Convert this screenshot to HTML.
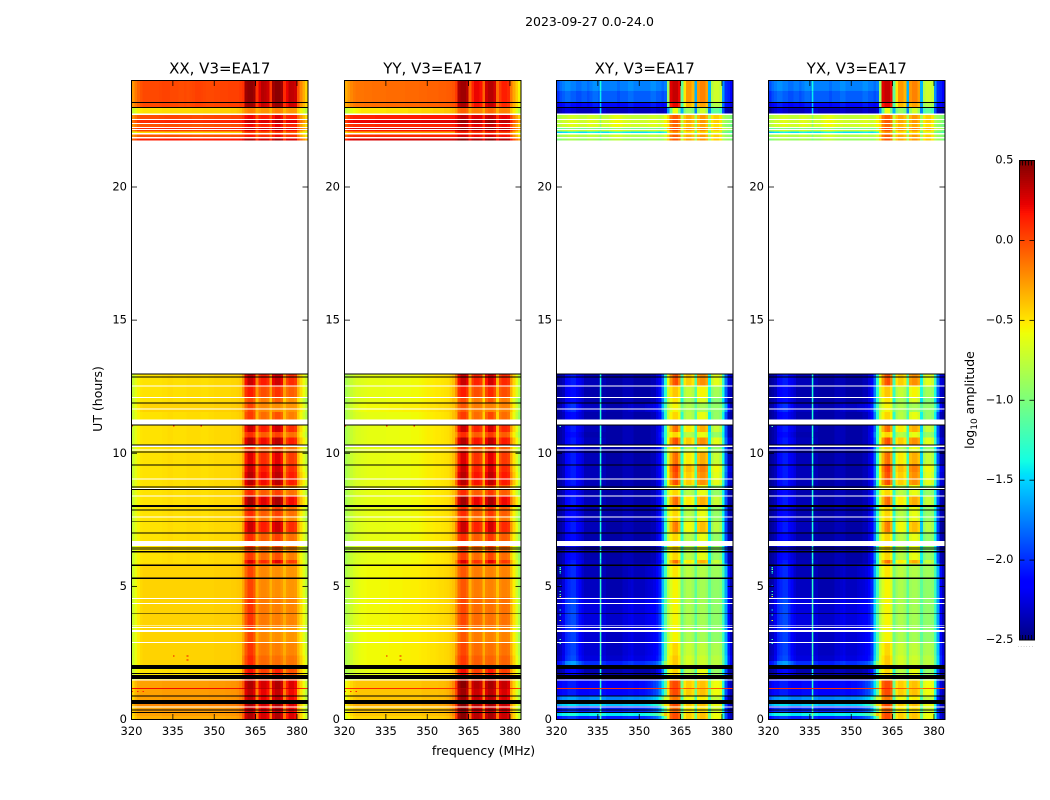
<!DOCTYPE html>
<html lang="en">
<head>
<meta charset="utf-8">
<title>2023-09-27 spectrogram</title>
<style>
html,body{margin:0;padding:0;background:#fff;}
svg{display:block;}
text{font-family:"DejaVu Sans","Liberation Sans",sans-serif;fill:#000;}
</style>
</head>
<body>
<svg id="fig" xmlns="http://www.w3.org/2000/svg" width="1050" height="800" viewBox="0 0 1050 800">
  <rect x="0" y="0" width="1050" height="800" fill="#fff"/>
  <text x="589.5" y="26" text-anchor="middle" font-size="12.5">2023-09-27 0.0-24.0</text>
  <text x="483.5" y="755" text-anchor="middle" font-size="12.5">frequency (MHz)</text>
  <text transform="translate(102,399) rotate(-90)" text-anchor="middle" font-size="12.5">UT (hours)</text>
  <text transform="translate(974,400) rotate(-90)" text-anchor="middle" font-size="12.5">log<tspan font-size="9" dy="3">10</tspan><tspan dy="-3"> amplitude</tspan></text>
  <g id="panels"></g>
  <g id="colorbar"></g>
</svg>
<script>
// ---------- Data (values are log10 amplitude x 100 in the profiles) ----------
const panelTitles = ["XX, V3=EA17", "YY, V3=EA17", "XY, V3=EA17", "YX, V3=EA17"];
const xTickLabels = [320, 335, 350, 365, 380];
const yTickLabels = [0, 5, 10, 15, 20];
const colorbarTicks = [0.5, 0.0, -0.5, -1.0, -1.5, -2.0, -2.5];
const channelStart = 320;
const channelCount = 64;

const profilesXX = [
 [-25,-15,-8,-3,0,0,0,0,0,0, 1,2,2,2,0,0,0,-1,-1,0, -1,0,1,3,3,2,1,0,0,0, 1,1,2,2,2,3,3,3,3,5, 8,42,46,46,42,8,25,36,34,30, 6,42,47,47,43,10,22,34,33,30, -3,-20,-32,-44],
 [-72,-62,-54,-50,-48,-48,-48,-48,-48,-48, -48,-47,-47,-47,-46,-46,-46,-46,-46,-46, -46,-46,-45,-45,-45,-45,-44,-44,-44,-44, -44,-44,-43,-43,-43,-43,-42,-42,-40,-38, -30,-22,-18,-18,-20,-32,-28,-24,-24,-24, -35,-22,-18,-18,-22,-35,-28,-25,-25,-26, -45,-55,-65,-75],
 [-18,-8,0,4,4,4,4,4,4,4, 5,5,6,6,6,6,6,5,5,5, 5,5,4,4,4,4,5,5,5,5, 6,6,6,6,6,6,7,7,7,8, 10,22,25,25,22,0,15,18,18,16, 0,20,28,28,22,0,14,16,16,15, -8,-22,-34,-45],
 [-72,-62,-55,-50,-49,-49,-49,-49,-49,-49, -49,-48,-48,-47,-47,-48,-48,-48,-48,-48, -47,-47,-47,-47,-47,-48,-48,-48,-47,-47, -46,-46,-46,-46,-46,-46,-45,-45,-44,-42, -30,14,26,26,18,-24,4,10,10,4, -30,18,25,25,17,-30,-4,5,5,0, -36,-52,-64,-75],
 [-72,-62,-55,-50,-49,-49,-49,-49,-49,-49, -49,-48,-48,-47,-47,-48,-48,-48,-48,-48, -47,-47,-47,-47,-47,-48,-48,-48,-47,-47, -46,-46,-46,-46,-46,-46,-45,-45,-44,-42, -30,2,10,10,2,-30,-12,-6,-6,-10, -32,-4,3,3,-4,-32,-18,-12,-12,-16, -38,-52,-64,-75],
 [-70,-60,-52,-46,-44,-44,-44,-44,-44,-44, -44,-44,-44,-44,-44,-44,-44,-44,-44,-44, -44,-44,-44,-44,-44,-44,-44,-44,-44,-44, -43,-43,-43,-43,-43,-43,-42,-42,-41,-40, -30,-10,2,2,-6,-32,-22,-20,-20,-22, -34,-24,-22,-22,-26,-36,-26,-24,-24,-26, -40,-52,-64,-76],
 [-45,-35,-30,-28,-28,-28,-28,-28,-28,-28, -28,-27,-27,-27,-27,-27,-27,-27,-27,-27, -27,-27,-27,-27,-27,-27,-27,-27,-26,-26, -26,-26,-26,-26,-25,-25,-24,-24,-22,-18, -5,30,38,38,30,-12,22,28,28,22, -14,30,38,38,30,-12,14,26,26,20, -28,-44,-58,-72],
 [20,20,20,20,20,20,20,20,20,20, 20,20,20,20,20,20,20,20,20,20, 20,20,20,20,20,20,20,20,20,20, 20,20,20,20,20,20,20,20,20,22, 25,35,40,40,35,15,30,35,35,30, 15,35,40,40,35,15,28,32,32,28, 18,15,12,10]
];
const profilesYY = [
 [-32,-25,-20,-16,-14,-14,-14,-13,-13,-13, -12,-12,-12,-12,-12,-11,-11,-11,-11,-11, -11,-11,-10,-10,-10,-10,-10,-9,-9,-9, -8,-8,-8,-8,-7,-7,-7,-6,-5,-3, 5,38,42,42,36,-8,12,22,22,18, -8,30,36,36,28,-10,5,14,14,10, -15,-30,-42,-55],
 [-75,-68,-62,-58,-55,-52,-50,-50,-50,-50, -50,-50,-50,-50,-50,-48,-48,-48,-48,-48, -48,-48,-48,-46,-46,-46,-46,-46,-44,-44, -44,-44,-42,-42,-42,-42,-40,-40,-38,-35, -28,-12,-8,-8,-12,-30,-20,-18,-18,-20, -32,-14,-10,-10,-16,-32,-20,-18,-18,-20, -40,-52,-64,-75],
 [0,10,15,17,17,17,17,17,17,17, 17,18,18,18,18,18,18,18,18,18, 19,19,19,19,19,19,19,19,20,20, 20,20,20,20,20,20,20,20,20,21, 23,32,36,36,32,12,26,29,29,26, 10,32,36,36,30,10,24,26,26,24, 4,-13,-26,-40],
 [-84,-78,-73,-69,-66,-65,-64,-63,-62,-61, -61,-61,-61,-61,-61,-60,-60,-60,-60,-60, -59,-59,-59,-59,-57,-57,-57,-56,-55,-54, -53,-53,-52,-51,-51,-50,-49,-48,-44,-38, -22,14,26,26,18,-35,0,8,8,2, -38,12,24,24,14,-40,-4,6,6,2, -30,-50,-66,-85],
 [-84,-78,-73,-69,-66,-65,-64,-63,-62,-61, -61,-61,-61,-61,-61,-60,-60,-60,-60,-60, -59,-59,-59,-59,-57,-57,-57,-56,-55,-54, -53,-53,-52,-51,-51,-50,-49,-48,-44,-38, -28,2,10,10,2,-35,-12,-6,-6,-10, -38,-4,6,6,-6,-40,-12,-6,-6,-10, -38,-55,-70,-85],
 [-82,-76,-71,-66,-63,-60,-59,-58,-57,-57, -57,-57,-57,-56,-56,-56,-55,-55,-55,-55, -55,-54,-54,-54,-53,-53,-53,-52,-51,-51, -50,-49,-49,-48,-47,-47,-46,-45,-42,-39, -30,-12,-4,-4,-10,-34,-20,-16,-16,-18, -36,-20,-18,-18,-22,-38,-22,-18,-18,-20, -38,-54,-70,-85],
 [-60,-52,-46,-42,-40,-40,-40,-40,-40,-40, -40,-40,-40,-40,-40,-40,-40,-40,-40,-40, -40,-40,-40,-40,-40,-40,-40,-40,-38,-38, -38,-38,-38,-38,-37,-37,-36,-34,-28,-20, 5,40,48,48,38,-10,30,36,36,30, -12,32,40,40,32,-12,26,32,32,26, -26,-44,-60,-75],
 [10,10,10,10,10,10,10,10,10,10, 10,10,10,10,10,10,10,10,10,10, 10,10,10,10,10,10,10,10,10,10, 10,10,10,10,10,10,10,10,10,12, 18,35,40,40,35,12,30,35,35,30, 12,35,40,40,35,12,28,32,32,28, 12,10,8,5]
];
const profilesXY = [
 [-205,-195,-190,-185,-185,-190,-190,-195,-195,-190, -190,-195,-190,-185,-185,-190,-190,-190,-190,-190, -190,-190,-195,-190,-190,-190,-185,-185,-190,-190, -190,-190,-190,-190,-185,-185,-190,-190,-195,-190, -90,25,32,32,22,-110,-50,-25,-25,-35, -160,-25,-18,-18,-28,-160,-80,-70,-70,-75, -170,-200,-205,-215],
 [-245,-235,-230,-225,-225,-230,-230,-235,-235,-235, -235,-235,-235,-230,-230,-230,-230,-230,-235,-235, -235,-235,-235,-235,-235,-235,-230,-230,-235,-235, -235,-235,-235,-235,-230,-230,-235,-235,-235,-230, -170,-110,-60,-60,-100,-160,-100,-90,-90,-100, -175,-90,-70,-70,-90,-175,-120,-110,-110,-120, -190,-235,-240,-245],
 [-95,-90,-85,-85,-80,-78,-80,-82,-85,-85, -85,-80,-78,-80,-82,-85,-85,-85,-85,-80, -75,-72,-72,-75,-80,-82,-82,-85,-85,-85, -85,-85,-85,-82,-80,-80,-82,-85,-80,-70, -45,-15,-5,-5,-15,-75,-40,-30,-30,-38, -85,-35,-25,-25,-35,-85,-50,-42,-42,-50, -80,-88,-92,-98],
 [-245,-240,-235,-215,-210,-205,-205,-215,-220,-225, -235,-235,-235,-235,-235,-235,-235,-235,-240,-240, -240,-240,-240,-240,-235,-235,-235,-235,-240,-240, -240,-240,-240,-240,-235,-235,-225,-215,-185,-130, -70,-35,-15,-10,-30,-130,-60,-52,-52,-60, -125,-38,-32,-32,-40,-150,-85,-72,-72,-80, -135,-190,-235,-240],
 [-245,-240,-235,-220,-215,-210,-210,-220,-225,-230, -238,-238,-238,-238,-238,-238,-238,-238,-240,-240, -240,-240,-240,-240,-235,-235,-235,-235,-240,-240, -240,-240,-240,-240,-235,-235,-225,-210,-175,-130, -75,-55,-45,-45,-55,-130,-85,-78,-78,-85, -120,-65,-60,-60,-68,-140,-100,-90,-90,-95, -140,-190,-235,-240],
 [-235,-230,-220,-200,-195,-190,-190,-200,-210,-220, -225,-225,-225,-225,-225,-225,-225,-225,-230,-230, -230,-230,-230,-230,-225,-225,-222,-220,-225,-225, -225,-225,-222,-220,-218,-215,-208,-195,-150,-115, -80,-65,-55,-55,-65,-105,-88,-82,-82,-88, -112,-88,-85,-85,-90,-112,-95,-92,-92,-95, -125,-165,-215,-235],
 [-225,-215,-210,-210,-205,-205,-205,-210,-215,-215, -215,-215,-210,-210,-210,-210,-210,-210,-215,-215, -215,-215,-215,-215,-212,-212,-210,-210,-212,-212, -210,-210,-208,-205,-200,-195,-190,-175,-145,-110, -50,-8,0,0,-8,-105,-50,-42,-42,-48, -105,-42,-38,-38,-45,-105,-65,-58,-58,-62, -130,-190,-225,-235],
 [8,8,8,8,8,8,8,8,8,8, 8,8,8,8,8,8,8,8,8,8, 8,8,8,8,8,8,8,8,8,8, 5,5,5,5,5,5,5,5,2,0, -5,15,15,15,10,-20,-5,-5,-5,-5, -20,-10,-10,-10,-10,-15,-5,-5,-5,-5, 5,8,10,10]
];
const profilesYX = profilesXY; // the YX panel reads the same as XY to within what can be seen

// Narrow interference line seen only in the cross hands; one amplitude per profile
const narrowLineFreq = 335.7;
const narrowLineWidth = 0.55;
const narrowLineValue = [-145,-150,-100,-135,-135,-125,-130,8];

// Time bands: [UT start, UT end, profile, auto continuum shift, auto RFI shift, cross continuum shift, cross RFI shift]
const bands = [
 [24.00,23.60,0,0,0,15,0],[23.60,23.19,0,0,0,5,0],[23.19,23.00,0,0,-3,-20,-10],[23.00,22.76,1,0,0,0,0],
 [22.76,22.53,2,-5,-3,10,0],[22.53,22.38,2,5,8,15,0],[22.38,22.23,2,-8,-5,15,-5],[22.23,22.15,2,8,10,-20,8],
 [22.15,22.08,2,-3,2,10,0],[22.08,22.02,2,-50,-25,-60,-20],[22.02,21.85,2,-8,-8,5,0],[21.85,21.75,2,10,12,-5,0],
 [13.00,12.55,3,0,5,0,10],[12.55,12.10,4,0,5,0,5],[12.10,11.90,4,0,-10,0,-5],[11.90,11.55,5,0,0,-8,0],[11.55,11.27,4,0,-5,0,0],
 [11.27,10.80,3,0,5,0,0],[10.80,10.60,4,0,0,0,0],[10.60,10.30,3,0,10,0,10],[10.30,10.05,4,0,0,0,0],[10.05,9.60,3,0,0,0,0],
 [9.60,9.30,3,0,5,0,15],[9.30,8.80,3,0,10,0,10],[8.80,8.40,4,0,0,0,0],[8.40,8.05,3,0,15,0,0],[8.05,7.65,4,0,0,0,0],
 [7.65,7.45,4,0,-8,0,0],[7.45,7.05,3,0,5,0,-5],[7.05,6.50,4,0,0,0,0],[6.50,6.00,4,0,-5,0,0],[6.00,5.85,3,0,0,0,0],
 [5.85,5.35,5,0,0,-10,5],[5.35,4.60,5,0,0,-8,0],[4.60,3.50,5,0,5,0,0],[3.50,2.90,5,0,0,-3,0],[2.90,2.40,5,0,5,-3,10],
 [2.40,2.20,5,0,10,0,15],[2.20,2.05,5,0,10,25,15],[2.05,1.50,4,0,10,0,0],[1.50,1.18,6,0,0,0,0],[1.18,1.14,7,0,0,0,0],
 [1.14,0.90,6,0,-5,0,0],[0.90,0.73,6,0,-5,40,-15],[0.73,0.58,6,0,0,0,0],[0.58,0.50,6,8,0,60,0],[0.50,0.24,6,0,-5,10,-10],
 [0.24,0.14,6,0,0,70,0],[0.14,0.00,6,-5,0,10,0]
];
const blackStart = [23.19,23.00,12.99,12.88,11.91,11.08,10.33,10.07,9.58,8.76,8.67,8.06,7.89,7.44,7.03,6.46,6.39,6.32,5.83,5.34,3.99,2.04,1.74,1.67,0.90,0.73,0.375,0.28];
const blackEnd   = [23.15,22.96,12.95,12.84,11.87,11.04,10.29,10.02,9.54,8.72,8.62,7.99,7.85,7.41,6.99,6.42,6.36,6.28,5.76,5.27,3.96,1.89,1.71,1.52,0.86,0.58,0.34,0.24];
const whiteStart = [12.54,12.11,11.68,11.27,10.29,10.14,9.06,8.70,8.42,7.63,6.71,4.56,4.37,3.54,3.47,3.36,2.91,1.50,0.49,22.76,22.55,22.40,22.25,22.17,22.02,21.87];
const whiteEnd   = [12.51,12.07,11.64,11.08,10.23,10.10,9.02,8.66,8.38,7.59,6.52,4.52,4.33,3.51,3.43,3.28,2.87,1.46,0.45,22.71,22.51,22.36,22.21,22.14,21.97,21.83];

// Isolated bad pixels
const crossSpeckUT = [5.70,5.64,5.56,5.50,5.02,4.80,4.70,4.62,4.12,3.92,3.72,3.00,2.85,11.00];
const crossSpeckChannel = [321,321,321,321,321,321,321,321,321,321,321,321,321,321];
const crossSpeckValue = [-130,-110,-130,-140,-150,-130,-120,-60,-140,-130,-60,-120,-130,-120];
const autoSpeckUT = [2.38,2.38,2.24,1.05,1.05,1.05,11.02,11.02,11.02];
const autoSpeckChannel = [335,340,340,320,322,324,320,335,345];
const autoSpeckValue = [20,20,20,10,10,10,15,15,15];

// ---------- Axis functions ----------
const SVGNS = "http://www.w3.org/2000/svg";
const panelLeft = [131.5, 344.5, 556.5, 768.5];
const panelWidth = 176.5;
const axTop = 80.5, axBottom = 719.5;
const xScale = (mhz, p) => panelLeft[p] + (mhz - channelStart) / channelCount * panelWidth;
const yScale = ut => axBottom - ut / 24 * (axBottom - axTop);
const cbTop = 160.5, cbBottom = 640, cbLeft = 1019.5, cbRight = 1034.5;
const cbScale = v => cbBottom - (v + 2.5) / 3 * (cbBottom - cbTop);

function piece(t, xs, ys) {
  if (t <= xs[0]) return ys[0];
  for (let i = 1; i < xs.length; i++) {
    if (t <= xs[i]) return ys[i-1] + (ys[i]-ys[i-1]) * (t-xs[i-1]) / (xs[i]-xs[i-1]);
  }
  return ys[ys.length-1];
}
function jet(v) {
  const t = Math.max(0, Math.min(1, (v + 2.5) / 3));
  const r = piece(t, [0,0.35,0.66,0.89,1], [0,0,1,1,0.5]);
  const g = piece(t, [0,0.125,0.375,0.64,0.91,1], [0,0,1,1,0,0]);
  const b = piece(t, [0,0.11,0.34,0.65,1], [0.5,1,1,0,0]);
  return "rgb(" + Math.round(r*255) + "," + Math.round(g*255) + "," + Math.round(b*255) + ")";
}
function mk(tag, parent, attrs) {
  const el = document.createElementNS(SVGNS, tag);
  for (const k in attrs) el.setAttribute(k, attrs[k]);
  parent.appendChild(el);
  return el;
}

// ---------- Panels ----------
const panelsG = document.getElementById("panels");
const panelProfiles = [profilesXX, profilesYY, profilesXY, profilesYX];
const panelNames = ["xx", "yy", "xy", "yx"];

panelNames.forEach(function (pn, p) {
  const g = mk("g", panelsG, {});
  
  
  const isCross = p >= 2;

  bands.forEach(function (b) {
    const prof = panelProfiles[p][b[2]];
    const contShift = isCross ? b[5] : b[3];
    const rfiShift = isCross ? b[6] : b[4];
    const y0 = yScale(b[0]), y1 = yScale(b[1]);
    for (let c = 0; c < channelCount; c++) {
      const val = (prof[c] + (c >= 40 ? rfiShift : contShift)) / 100;
      const x0 = xScale(channelStart + c, p), x1 = xScale(channelStart + c + 1, p);
      const cell = mk("rect", g, {x:x0.toFixed(2), y:y0.toFixed(2), width:(x1-x0).toFixed(2), height:(y1-y0).toFixed(2), fill:jet(val), "shape-rendering":"crispEdges"});
      
      
    }
    if (isCross) {
      const lx0 = xScale(narrowLineFreq, p), lx1 = xScale(narrowLineFreq + narrowLineWidth, p);
      const seg = mk("rect", g, {x:lx0.toFixed(2), y:y0.toFixed(2), width:(lx1-lx0).toFixed(2), height:(y1-y0).toFixed(2), fill:jet((narrowLineValue[b[2]] + contShift * 0.5) / 100)});
      
      
    }
  });

  const speckUT = isCross ? crossSpeckUT : autoSpeckUT;
  const speckCh = isCross ? crossSpeckChannel : autoSpeckChannel;
  const speckVal = isCross ? crossSpeckValue : autoSpeckValue;
  speckUT.forEach(function (u, i) {
    const x0 = xScale(speckCh[i], p), x1 = xScale(speckCh[i] + 0.6, p);
    const y0 = yScale(u + 0.02), y1 = yScale(u - 0.02);
    const sp = mk("rect", g, {x:x0.toFixed(2), y:y0.toFixed(2), width:(x1-x0).toFixed(2), height:(y1-y0).toFixed(2), fill:jet(speckVal[i] / 100), "shape-rendering":"crispEdges"});
    
    
  });

  blackStart.forEach(function (s, i) {
    const y0 = yScale(s), y1 = yScale(blackEnd[i]);
    const r = mk("rect", g, {x:panelLeft[p], y:y0.toFixed(2), width:panelWidth, height:(y1-y0).toFixed(2), fill:"#000", "shape-rendering":"crispEdges"});
    
    
  });
  whiteStart.forEach(function (s, i) {
    const y0 = yScale(s), y1 = yScale(whiteEnd[i]);
    const r = mk("rect", g, {x:panelLeft[p], y:y0.toFixed(2), width:panelWidth, height:(y1-y0).toFixed(2), fill:"#fff", "shape-rendering":"crispEdges"});
    
    
  });

  const frame = mk("rect", g, {x:panelLeft[p], y:axTop, width:panelWidth, height:axBottom-axTop, fill:"none", stroke:"#000", "stroke-width":1});
  
  

  xTickLabels.forEach(function (t) {
    const x = xScale(t, p);
    const t1 = mk("line", g, {x1:x, x2:x, y1:axBottom, y2:axBottom-5.5, stroke:"#000", "stroke-width":0.8});
    
    
    const t2 = mk("line", g, {x1:x, x2:x, y1:axTop, y2:axTop+5.5, stroke:"#000", "stroke-width":0.8});
    
    
    const lab = mk("text", g, {x:x, y:735, "text-anchor":"middle", "font-size":11.5});
    
    
    lab.textContent = t;
  });
  yTickLabels.forEach(function (t) {
    const y = yScale(t);
    const t1 = mk("line", g, {x1:panelLeft[p], x2:panelLeft[p]+5.5, y1:y, y2:y, stroke:"#000", "stroke-width":0.8});
    
    
    const t2 = mk("line", g, {x1:panelLeft[p]+panelWidth, x2:panelLeft[p]+panelWidth-5.5, y1:y, y2:y, stroke:"#000", "stroke-width":0.8});
    
    
    const lab = mk("text", g, {x:panelLeft[p]-4.5, y:y+3.5, "text-anchor":"end", "font-size":11.5});
    
    
    lab.textContent = t;
  });

  const title = mk("text", g, {x:panelLeft[p]+panelWidth/2, y:73.5, "text-anchor":"middle", "font-size":15});
  
  
  title.textContent = panelTitles[p];
});

// ---------- Colorbar ----------
const cbG = document.getElementById("colorbar");
for (let i = 0; i < 240; i++) {
  const v0 = -2.5 + i * 3 / 240, v1 = -2.5 + (i + 1) * 3 / 240;
  const seg = mk("rect", cbG, {x:cbLeft, y:cbScale(v1).toFixed(2), width:cbRight-cbLeft, height:(cbScale(v0)-cbScale(v1)+0.3).toFixed(2), fill:jet((v0+v1)/2), "shape-rendering":"crispEdges"});
  
  
}
const cbFrame = mk("rect", cbG, {x:cbLeft, y:cbTop, width:cbRight-cbLeft, height:cbBottom-cbTop, fill:"none", stroke:"#000", "stroke-width":1});


colorbarTicks.forEach(function (t) {
  const y = cbScale(t);
  const a = mk("line", cbG, {x1:cbLeft, x2:cbLeft+5, y1:y, y2:y, stroke:"#000", "stroke-width":0.8});
  
  
  const b = mk("line", cbG, {x1:cbRight, x2:cbRight-5, y1:y, y2:y, stroke:"#000", "stroke-width":0.8});
  
  
  const lab = mk("text", cbG, {x:1013.5, y:y+3, "text-anchor":"end", "font-size":11.5});
  
  
  lab.textContent = (t < 0 ? "\u2212" : "") + Math.abs(t).toFixed(1);
});
[0.2, 0.4, 0.6, 0.8].concat([0.03]).forEach(function (f) {
  const x = cbLeft + f * (cbRight - cbLeft);
  const a = mk("line", cbG, {x1:x, x2:x, y1:cbTop, y2:cbTop+5, stroke:"#000", "stroke-width":0.8});
  
  
  const b = mk("line", cbG, {x1:x, x2:x, y1:cbBottom, y2:cbBottom-5, stroke:"#000", "stroke-width":0.8});
  
  
});
const dots = mk("text", cbG, {x:1026, y:647, "text-anchor":"middle", "font-size":5, "letter-spacing":"1.2", style:"fill:#777"});


dots.textContent = "......";
</script>
</body>
</html>
